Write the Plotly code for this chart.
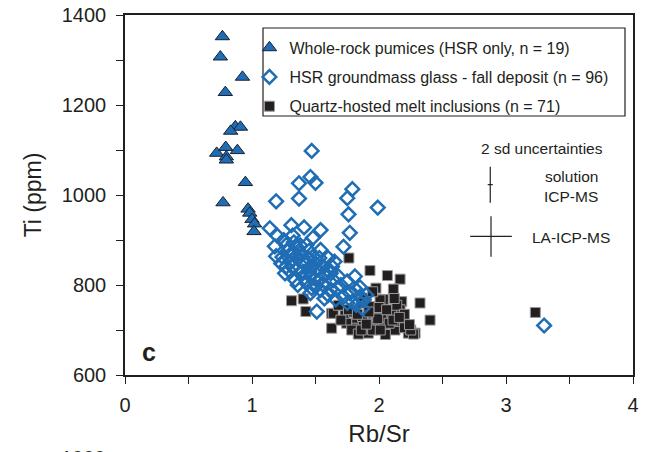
import plotly.graph_objects as go

# ---- data ----
tri_x = [0.767, 0.751, 0.925, 0.790, 0.869, 0.909, 0.832, 0.722, 0.793, 0.885,
         0.798, 0.798, 0.948, 0.772, 0.969, 0.982, 1.000, 1.020, 1.016]
tri_y = [1352, 1307, 1262, 1228, 1152, 1151, 1142, 1093, 1106, 1099,
         1085, 1078, 1028, 983, 969, 960, 946, 936, 919]

dia_x = [1.47, 1.46, 1.50, 1.37, 1.19, 1.37, 1.79, 1.75, 1.99, 1.76,
         1.77, 1.72, 1.14, 1.31, 1.41, 1.54, 1.20, 1.48, 1.18, 1.19,
         1.32, 1.27, 1.35, 1.43, 1.38, 1.30, 1.23, 1.32, 1.40, 1.48,
         1.54, 1.60, 1.63, 1.65, 1.59, 1.51, 1.46, 1.38, 1.34, 1.43,
         1.50, 1.56, 1.64, 1.68, 1.75, 1.81, 1.82, 1.77, 1.85, 1.88,
         1.72, 1.79, 1.82, 1.75, 1.90, 1.60, 1.54, 1.46, 1.67, 1.51,
         1.87, 1.27, 1.26, 1.32, 1.46, 3.30, 1.28, 1.33, 1.36, 1.42,
         1.44, 1.30, 1.35, 1.40, 1.45, 1.50, 1.53, 1.55, 1.57, 1.49,
         1.41, 1.36, 1.53, 1.62, 1.24, 1.29, 1.38, 1.45, 1.33, 1.25,
         1.70, 1.62, 1.47, 1.57, 1.85, 1.66]
dia_y = [1098, 1040, 1027, 1026, 986, 992, 1013, 993, 972, 957,
         916, 885, 926, 933, 928, 922, 909, 905, 886, 864,
         910, 889, 885, 889, 871, 867, 848, 841, 852, 863,
         878, 860, 841, 852, 834, 834, 819, 826, 811, 804,
         796, 800, 811, 819, 808, 819, 789, 782, 774, 767,
         774, 763, 756, 760, 778, 778, 789, 782, 793, 741,
         748, 841, 826, 856, 841, 710, 875, 870, 858, 846,
         860, 852, 835, 830, 830, 848, 860, 842, 822, 815,
         815, 800, 812, 826, 862, 833, 888, 876, 895, 900,
         800, 790, 793, 770, 795, 768]

sq_x = [1.763, 1.929, 2.066, 2.166, 1.311, 1.403, 2.113, 1.976, 2.029, 2.179,
        2.323, 1.424, 1.627, 1.732, 1.824, 1.903, 1.968, 2.087, 2.166, 2.402,
        1.627, 1.745, 1.824, 1.916, 2.021, 2.126, 2.166, 2.231, 2.284, 1.785,
        1.968, 2.047, 1.876, 3.231, 1.916, 2.034, 2.271, 1.837, 1.982, 2.100,
        2.034, 1.890, 2.008, 1.640, 1.870, 1.950, 2.080, 2.200, 2.250, 1.800,
        1.860, 1.930, 2.000, 2.140, 2.200, 1.700, 1.760, 1.860, 2.050, 2.110,
        1.990, 1.920, 2.060, 2.160, 2.010, 1.900, 1.830, 2.240, 1.680, 2.120,
        1.950]
sq_y = [860, 832, 821, 813, 765, 769, 791, 793, 767, 763,
        760, 741, 737, 733, 722, 730, 741, 737, 745, 722,
        704, 715, 704, 693, 707, 700, 719, 693, 693, 700,
        715, 726, 719, 739, 711, 706, 691, 691, 733, 739,
        768, 771, 767, 737, 730, 700, 715, 705, 700, 740,
        760, 752, 750, 755, 735, 722, 745, 700, 690, 722,
        725, 740, 745, 728, 700, 713, 735, 712, 755, 770,
        785]

# 2 sd uncertainty symbols: [x, y, err_x, err_y]
unc_solution = [2.876, 1023, 0.02, 40]
unc_la = [2.882, 908, 0.164, 45]

names = ["Whole-rock pumices (HSR only, n = 19)",
         "HSR groundmass glass - fall deposit (n = 96)",
         "Quartz-hosted melt inclusions (n = 71)"]

FONT = "Liberation Sans, Arial, sans-serif"
INK = "#231f20"
BLUE = "#1f6db5"

fig = go.Figure()

fig.add_trace(go.Scatter(
    x=sq_x, y=sq_y, mode="markers", name=names[2], legendgroup="c", legendrank=3,
    marker=dict(symbol="square", size=10, color=INK,
                line=dict(color="#9a9a9a", width=1))))
fig.add_trace(go.Scatter(
    x=dia_x, y=dia_y, mode="markers", name=names[1], legendgroup="b", legendrank=2,
    marker=dict(symbol="diamond-open", size=10.5, color=BLUE,
                line=dict(color=BLUE, width=2.5))))
fig.add_trace(go.Scatter(
    x=tri_x, y=tri_y, mode="markers", name=names[0], legendgroup="a", legendrank=1,
    marker=dict(symbol="triangle-up", size=12.5, color=BLUE,
                line=dict(color="#1a2030", width=1))))

for u in (unc_solution, unc_la):
    fig.add_trace(go.Scatter(
        x=[u[0]], y=[u[1]], mode="markers", showlegend=False, hoverinfo="skip",
        marker=dict(size=1, opacity=0),
        error_x=dict(type="constant", value=u[2], width=0, thickness=1.2, color=INK),
        error_y=dict(type="constant", value=u[3], width=0, thickness=1.2, color=INK)))

axis_common = dict(
    showline=True, linecolor=INK, linewidth=1.5, mirror=True,
    ticks="outside", ticklen=7, tickwidth=1.3, tickcolor=INK,
    showgrid=False, zeroline=False, automargin=False,
    tickfont=dict(family=FONT, size=20, color=INK),
)

fig.update_layout(
    width=651, height=452,
    margin=dict(l=125, r=18, t=15, b=77),
    paper_bgcolor="white", plot_bgcolor="white",
    font=dict(family=FONT, color=INK),
    xaxis=dict(range=[0, 4], dtick=1, tick0=0,
               minor=dict(ticks="outside", ticklen=7, tickwidth=1.3, tickcolor=INK, dtick=0.5),
               title=dict(text="Rb/Sr", font=dict(family=FONT, size=24, color=INK), standoff=10),
               ticklabelstandoff=4,
               **axis_common),
    yaxis=dict(range=[600, 1400], dtick=200, tick0=600,
               minor=dict(ticks="outside", ticklen=7, tickwidth=1.3, tickcolor=INK, dtick=100),
               title=dict(text="Ti (ppm)", font=dict(family=FONT, size=23, color=INK), standoff=14),
               ticklabelstandoff=6,
               **axis_common),
    legend=dict(x=0.245, y=0.9564, xanchor="left", yanchor="top",
                bgcolor="rgba(0,0,0,0)", borderwidth=0,
                traceorder="grouped", tracegroupgap=5.5,
                font=dict(family=FONT, size=16, color=INK)),
    showlegend=True,
)

# legend frame
fig.add_shape(type="rect", xref="paper", yref="paper",
              x0=(263 - 125) / 508, x1=(625 - 125) / 508,
              y0=(375 - 116) / 360, y1=(375 - 28) / 360,
              line=dict(color=INK, width=1.2), fillcolor="rgba(0,0,0,0)")

ann_font = dict(family=FONT, size=15.5, color=INK)


def note(px, py, text, font=ann_font):
    fig.add_annotation(x=(px - 125) / 508, y=(375 - py) / 360, xref="paper", yref="paper",
                       xanchor="center", yanchor="middle",
                       text=text, showarrow=False, font=font)


note(541.5, 148, "2 sd uncertainties")
note(571, 177, "solution")
note(571, 196, "ICP-MS")
note(571, 237, "LA-ICP-MS")
note(149, 352, "<b>c</b>", dict(family=FONT, size=25, color=INK))
# clipped tick label from the panel below
note(83, 458, "1000", dict(family=FONT, size=20, color=INK))

fig.write_html("out.html")
